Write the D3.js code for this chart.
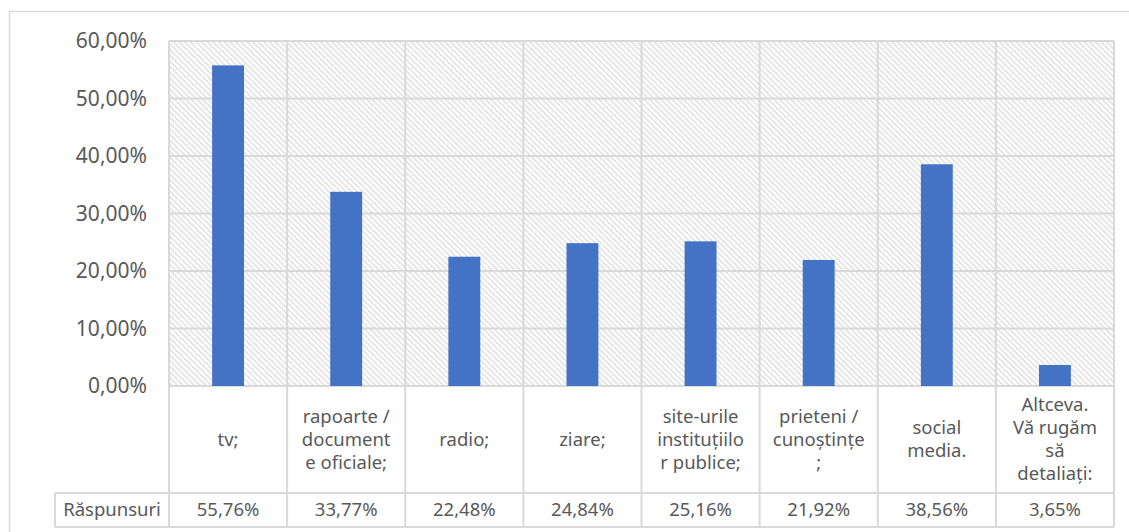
<!DOCTYPE html>
<html>
<head>
<meta charset="utf-8">
<script src="https://cdn.jsdelivr.net/npm/d3@7"></script>
<style>
  html, body { margin: 0; padding: 0; background: #fff; }
  text { font-family: "Noto Sans", "Open Sans", sans-serif; fill: #595959; }
</style>
</head>
<body>
<div id="chart"></div>
<script>
// chart data
const categories = [
    ['tv;'],
    ['rapoarte /', 'document', 'e oficiale;'],
    ['radio;'],
    ['ziare;'],
    ['site-urile', 'instituțiilo', 'r publice;'],
    ['prieteni /', 'cunoștințe', ';'],
    ['social', 'media.'],
    ['Altceva.', 'Vă rugăm', 'să', 'detaliați:'],
];
const values = [55.76, 33.77, 22.48, 24.84, 25.16, 21.92, 38.56, 3.65];
const yTicks = [0, 10, 20, 30, 40, 50, 60];
const seriesName = 'Răspunsuri';

const width = 1129;
const height = 532;
const plot = { left: 169, right: 1114, top: 41, bottom: 386 };
const catRowBottom = 493;
const dataRowBottom = 527;
const tableLeft = 55;
const gridColor = '#d9d9d9';
const fmt = v => d3.format('.2f')(v).replace('.', ',') + '%';

const svg = d3.select('#chart').append('svg')
    .attr('width', width)
    .attr('height', height);

// hatch fill of plot area
const defs = svg.append('defs');
const pat = defs.append('pattern')
    .attr('id', 'hatch')
    .attr('patternUnits', 'userSpaceOnUse')
    .attr('width', 4)
    .attr('height', 4)
    .attr('patternTransform', 'rotate(-45)');
pat.append('rect').attr('width', 4).attr('height', 4).attr('fill', '#fff');
pat.append('line')
    .attr('x1', 1).attr('y1', 0).attr('x2', 1).attr('y2', 4)
    .attr('stroke', '#dcdcdc').attr('stroke-width', 1.4);

// outer chart border
svg.append('rect')
    .attr('x', 9.5).attr('y', 11.5)
    .attr('width', width + 20).attr('height', height + 20)
    .attr('fill', 'none')
    .attr('stroke', gridColor)
    .attr('stroke-width', 1.5);

const x = d3.scaleBand()
    .domain(d3.range(categories.length))
    .range([plot.left, plot.right]);

const y = d3.scaleLinear()
    .domain([0, 60])
    .range([plot.bottom, plot.top]);

svg.append('rect')
    .attr('x', plot.left).attr('y', plot.top)
    .attr('width', plot.right - plot.left)
    .attr('height', plot.bottom - plot.top)
    .attr('fill', 'url(#hatch)');

// horizontal gridlines
svg.append('g')
    .selectAll('line')
    .data(yTicks)
    .join('line')
    .attr('x1', plot.left).attr('x2', plot.right)
    .attr('y1', d => y(d)).attr('y2', d => y(d))
    .attr('stroke', gridColor)
    .attr('stroke-width', 2);

// vertical lines: category separators running through the table
const edges = d3.range(categories.length + 1).map(i => plot.left + i * x.step());
svg.append('g')
    .selectAll('line')
    .data(edges)
    .join('line')
    .attr('x1', d => d).attr('x2', d => d)
    .attr('y1', plot.top).attr('y2', dataRowBottom)
    .attr('stroke', gridColor)
    .attr('stroke-width', 2);

// table horizontal lines
svg.append('line')
    .attr('x1', tableLeft).attr('x2', plot.right)
    .attr('y1', catRowBottom).attr('y2', catRowBottom)
    .attr('stroke', gridColor).attr('stroke-width', 2);
svg.append('line')
    .attr('x1', tableLeft).attr('x2', plot.right)
    .attr('y1', dataRowBottom).attr('y2', dataRowBottom)
    .attr('stroke', gridColor).attr('stroke-width', 2);
svg.append('line')
    .attr('x1', tableLeft).attr('x2', tableLeft)
    .attr('y1', catRowBottom).attr('y2', dataRowBottom)
    .attr('stroke', gridColor).attr('stroke-width', 2);

// bars
const barW = x.step() * 0.27;
svg.append('g')
    .selectAll('rect')
    .data(values)
    .join('rect')
    .attr('x', (d, i) => x(i) + (x.step() - barW) / 2)
    .attr('y', d => y(d))
    .attr('width', barW)
    .attr('height', d => y(0) - y(d))
    .attr('fill', '#4472c4');

// y axis labels
const yAxis = svg.append('g')
    .attr('transform', `translate(${plot.left},0)`)
    .call(d3.axisLeft(y).tickValues(yTicks).tickFormat(fmt).tickSize(0).tickPadding(22));
yAxis.select('.domain').remove();
yAxis.selectAll('text')
    .style('font-family', '"Noto Sans", sans-serif')
    .attr('fill', '#595959')
    .attr('font-size', 21);

// category labels
const lineH = 23;
const catMid = (plot.bottom + catRowBottom) / 2;
svg.append('g')
    .selectAll('text')
    .data(categories)
    .join('text')
    .attr('text-anchor', 'middle')
    .attr('font-size', 18.5)
    .each(function (lines, i) {
        const t = d3.select(this);
        const cx = x(i) + x.step() / 2;
        const y0 = catMid - (lines.length - 1) * lineH / 2;
        lines.forEach((ln, j) => {
            t.append('tspan')
                .attr('x', cx)
                .attr('y', y0 + j * lineH)
                .attr('dy', '0.35em')
                .text(ln);
        });
    });

// data row
const dataMid = (catRowBottom + dataRowBottom) / 2;
svg.append('text')
    .attr('x', (tableLeft + plot.left) / 2)
    .attr('y', dataMid)
    .attr('dy', '0.35em')
    .attr('text-anchor', 'middle')
    .attr('font-size', 18.5)
    .text(seriesName);
svg.append('g')
    .selectAll('text')
    .data(values)
    .join('text')
    .attr('x', (d, i) => x(i) + x.step() / 2)
    .attr('y', dataMid)
    .attr('dy', '0.35em')
    .attr('text-anchor', 'middle')
    .attr('font-size', 18.5)
    .text(fmt);
</script>
</body>
</html>
